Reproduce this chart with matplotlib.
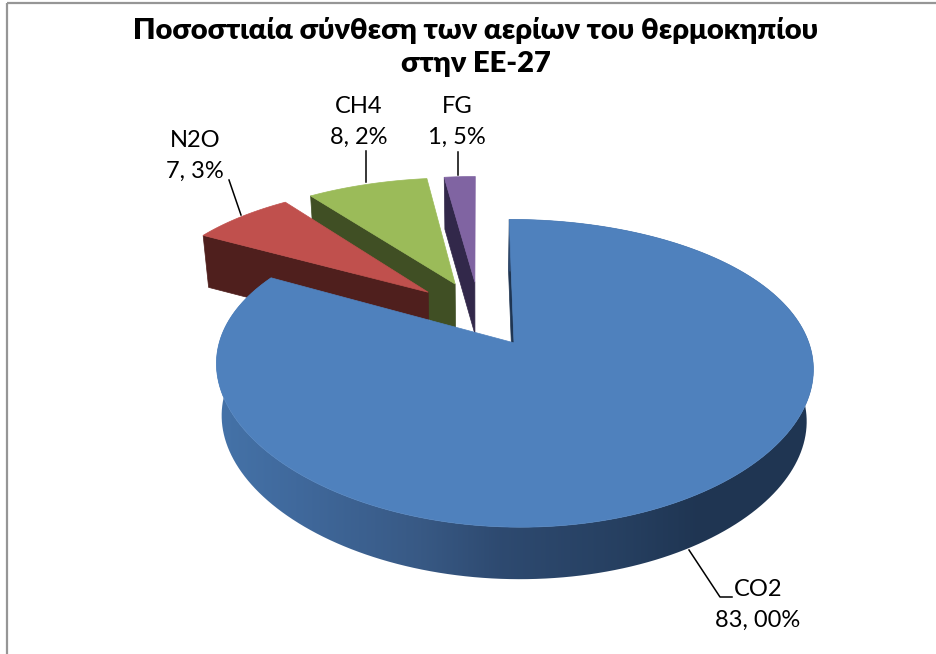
"""
Exploded 3D pie of greenhouse gas shares, drawn by hand in pixel space
"""
import numpy as np
import matplotlib
matplotlib.use("Agg")
import matplotlib.pyplot as plt
from matplotlib.patches import PathPatch, Rectangle
from matplotlib.path import Path

names = ["CO2", "N2O", "CH4", "FG"]
values = [83.0, 7.3, 8.2, 1.5]
value_labels = ["83, 00%", "7, 3%", "8, 2%", "1, 5%"]
title = "Ποσοστιαία σύνθεση των αερίων του θερμοκηπίου\nστην ΕΕ-27"

top_colors = ["#4F81BD", "#C0504D", "#9BBB59", "#8064A2"]
wall_colors = ["#1F3552", "#4F1F1D", "#404F24", "#32284A"]
# shading of the round CO2 wall, left to right in pixels
shade_x = [217, 300, 420, 500, 620, 700, 815]
shade_rgb = [(0.27, 0.45, 0.66), (0.25, 0.41, 0.61), (0.22, 0.35, 0.52),
             (0.18, 0.29, 0.44), (0.15, 0.25, 0.38), (0.122, 0.208, 0.322),
             (0.122, 0.208, 0.322)]

# projection of the pie plane on to the image
X0, Y0, A, B = 478, 313.5, 285.7, 136.5
KX, KY = 0.15, 0.19
EXPLODE = 0.24
DEPTH = 52
BOTTOM_X = 0.98
# Excel's projection moves the edges of the far slices a little, in degrees
EDGE_SHIFT_N2O_CH4 = 1.5
EDGE_SHIFT_CH4_FG = 2.0


def project(u, v):
    """unit circle plane to pixels, with a little perspective"""
    return X0 + A * u / (1 + KX * v), Y0 - B * v / (1 + KY * v)


def slice_outline(start, stop, mid, n=200):
    """top face of a slice, angles clockwise from north in degrees"""
    m = np.radians(mid)
    ou, ov = EXPLODE * np.sin(m), EXPLODE * np.cos(m)
    t = np.radians(np.linspace(start, stop, n))
    u = np.concatenate([[ou], ou + np.sin(t), [ou]])
    v = np.concatenate([[ov], ov + np.cos(t), [ov]])
    return project(u, v)


def lower(x, y):
    """same points on the underside of the slab"""
    return X0 + (x - X0) * BOTTOM_X, y + DEPTH


def draw_slice(ax, start, stop, mid, top, wall, z, round_wall=False):
    x, y = slice_outline(start, stop, mid)
    xb, yb = lower(x, y)
    # flat wall along the first edge, the one that faces the viewer
    ax.fill([x[0], x[1], xb[1], xb[0]], [y[0], y[1], yb[1], yb[0]],
            color=wall, lw=0.5, zorder=z)
    if round_wall:
        wx = np.concatenate([x[1:-1], xb[1:-1][::-1]])
        wy = np.concatenate([y[1:-1], yb[1:-1][::-1]])
        shape = PathPatch(Path(np.column_stack([wx, wy])), fc="none", ec="none",
                          transform=ax.transData)
        ax.add_patch(shape)
        xs = np.arange(936) + 0.5
        grad = np.stack([np.interp(xs, shade_x, [c[j] for c in shade_rgb])
                         for j in range(3)], axis=-1)[np.newaxis, :, :]
        img = ax.imshow(grad, extent=(0, 936, 654, 0), aspect="auto",
                        zorder=z, interpolation="bilinear")
        img.set_clip_path(shape)
    ax.fill(x, y, color=top, lw=0.5, zorder=z + 0.05)


def main():
    plt.rcParams["font.family"] = ["Lato", "Open Sans", "DejaVu Sans"]
    fig = plt.figure(figsize=(9.36, 6.54), dpi=100)
    ax = fig.add_axes([0, 0, 1, 1])

    ax.add_patch(Rectangle((7, 3), 1000, 1000, fill=False, ec="#969696", lw=1.6))

    # slice angles run clockwise from north, in the order of the data
    shares = np.array(values) / sum(values) * 360
    ends = np.cumsum(shares)
    starts = ends - shares
    mids = (starts + ends) / 2
    edge_start = starts.copy()
    edge_end = ends.copy()
    edge_end[1] -= EDGE_SHIFT_N2O_CH4
    edge_start[2] -= EDGE_SHIFT_N2O_CH4
    edge_end[2] -= EDGE_SHIFT_CH4_FG
    edge_start[3] -= EDGE_SHIFT_CH4_FG
    # FG at the back, CO2 in front
    for z, i in zip([1.0, 1.1, 1.2, 2.0], [3, 2, 1, 0]):
        draw_slice(ax, edge_start[i], edge_end[i], mids[i], top_colors[i],
                   wall_colors[i], z, round_wall=i == 0)

    ax.text(476, 47, title, ha="center", va="center", fontsize=21,
            fontweight="heavy", color="black", linespacing=1.36)

    leaders = {"CO2": ([689, 720, 732], [550, 597, 597]),
               "N2O": ([229, 241], [180, 215]),
               "CH4": ([366, 366], [151, 182]),
               "FG": ([458, 458], [152, 175])}
    spots = {"CO2": (758, 605), "N2O": (195, 156), "CH4": (359, 122),
             "FG": (457, 122)}
    for name, label in zip(names, value_labels):
        ax.plot(*leaders[name], color="black", lw=1.1, zorder=4)
        ax.text(*spots[name], name + "\n" + label, ha="center", va="center",
                fontsize=17, color="black", linespacing=1.55)

    ax.set_xlim(0, 936)
    ax.set_ylim(654, 0)
    ax.axis("off")
    fig.savefig("out.png", dpi=100)


if __name__ == "__main__":
    main()
